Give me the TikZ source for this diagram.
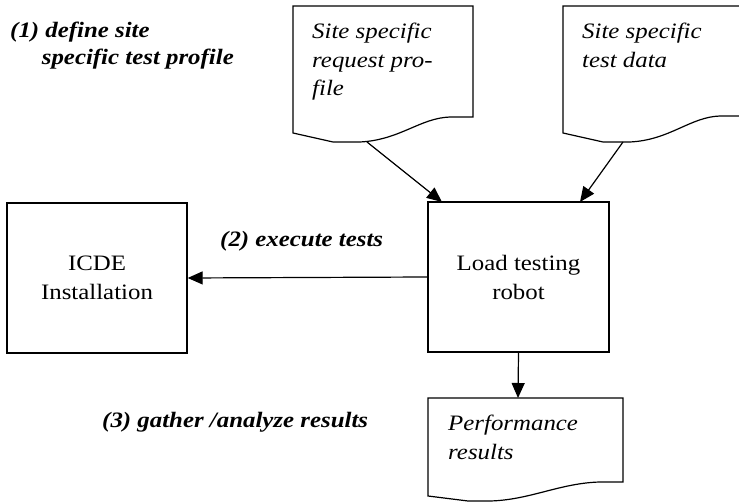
\documentclass[tikz,border=0pt]{standalone}
\usepackage{fontspec}
\setmainfont{Liberation Serif}
\usetikzlibrary{arrows.meta}
\begin{document}
\begin{tikzpicture}[x=1pt,y=-1pt,
  lw/.style={line width=1.2pt},
  arr/.style={lw,-{Triangle[length=15pt,width=13pt]}},
  txt/.style={inner sep=0pt, xscale=1.13, align=left},
  lbl/.style={txt, font=\fontsize{22}{27}\selectfont\bfseries\itshape},
  doctext/.style={txt, font=\fontsize{22}{28.5}\selectfont\itshape},
  box/.style={draw, lw, xscale=1.13, minimum width=159.3pt, minimum height=150pt, inner sep=0pt, align=center, font=\fontsize{22}{29}\selectfont},
]
\useasboundingbox (0,0) rectangle (739,502);
% boxes
\node[box] (icde) at (97,278) {ICDE\\Installation};
\node[box, minimum width=160.2pt] (robot) at (518.5,277) {Load testing\\robot};
% documents
\draw[lw] (293,133) -- (293,6) -- (473,6) -- (473,117) -- (450,117) .. controls (420,118) and (400,140) .. (360,142) -- (333,142) -- cycle;
\draw[lw] (563,133) -- (563,6) -- (743,6) -- (743,116) -- (720,116) .. controls (690,117) and (670,140) .. (630,142) -- (603,142) -- cycle;
\draw[lw] (428,496) -- (428,398) -- (623,398) -- (623,482) -- (600,482) .. controls (560,483) and (530,500) .. (490,501) -- (468,501) -- cycle;
\coordinate (d1out) at (367,142);
\coordinate (d2out) at (623,142);
\coordinate (in1) at (442,202);
\coordinate (in2) at (580,202);
\coordinate (perftop) at (518,398);
\node[doctext, anchor=base west] (t1) at (312,96) {Site specific\\request pro-\\file};
\node[doctext, anchor=base west] (t2) at (582,67.5) {Site specific\\test data};
\node[doctext, anchor=base west] (t3) at (448,459) {Performance\\results};
% connectors
\draw[arr] (d1out) -- (in1);
\draw[arr] (d2out) -- (in2);
\draw[arr] (robot.west) -- (icde.east);
\draw[arr] (robot.south) -- (perftop);
% labels
\node[lbl, anchor=base west] (l1) at (10,65) {(1) define site\\\hspace*{28pt}specific test profile};
\node[lbl, anchor=base west] (l2) at (220,247) {(2) execute tests};
\node[lbl, anchor=base west] (l3) at (102,428) {(3) gather /analyze results};
\end{tikzpicture}
\end{document}
